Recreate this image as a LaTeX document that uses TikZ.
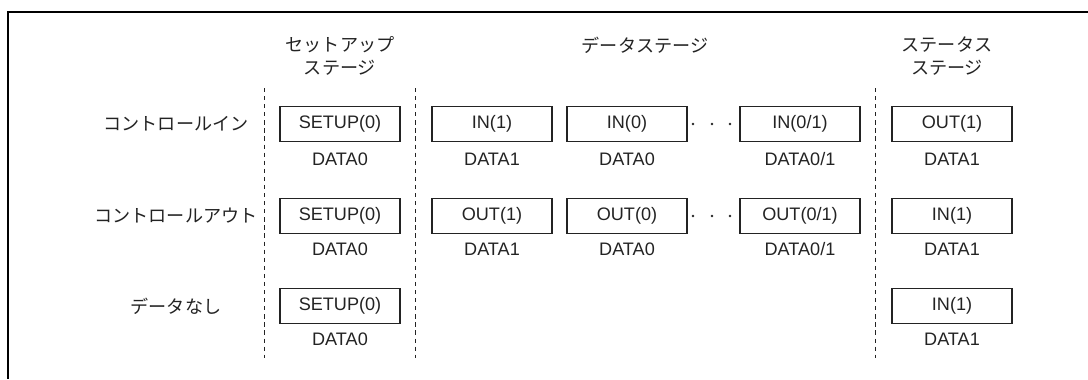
\documentclass[tikz,border=0pt]{standalone}
\usepackage{fontspec}
\setmainfont{Liberation Sans}
\newfontfamily\jp{Noto Sans CJK JP}
\usepackage{tikz}
\usetikzlibrary{positioning}
\definecolor{ink}{RGB}{35,35,35}
\tikzset{
  pkt/.style={draw=ink, line width=1.1pt, minimum width=2.4cm, minimum height=0.7cm,
    inner sep=0pt, text=ink, font=\fontsize{10.3}{12}\selectfont},
  pid/.style={text=ink, inner sep=0pt, font=\fontsize{10.3}{12}\selectfont},
  hdr/.style={text=ink, align=center, inner sep=0pt, font=\jp\fontsize{10.3}{13.2}\selectfont},
  row/.style={text=ink, inner sep=0pt, font=\jp\fontsize{10.3}{12}\selectfont},
  sep/.style={draw=ink, line width=0.5pt, dash pattern=on 2.4pt off 2.2pt},
  frame/.style={draw=black, line width=1.2pt}
}
\begin{document}
\begin{tikzpicture}[x=0.02cm, y=-0.02cm]
    \useasboundingbox (0,0) rectangle (1088,379);
    \draw[frame] (1088,12) -- (8,12) -- (8,379);

    \node[hdr] (hsetup) at (340,56) {セットアップ\\ステージ};
    \node[hdr] (hdata) at (645,45) {データステージ};
    \node[hdr] (hstatus) at (947,56) {ステータス\\ステージ};

    \node[row] (rin) at (176,124) {コントロールイン};
    \node[row] (rout) at (176,216) {コントロールアウト};
    \node[row] (rnone) at (176,306) {データなし};

    \draw[sep] (264,88) -- (264,358);
    \draw[sep] (415,88) -- (415,358);
    \draw[sep] (875,88) -- (875,358);

    % コントロールイン
    \node[pkt] (sin) at (340,124) {SETUP(0)};
    \node[pkt] (ina) at (492,124) {IN(1)};
    \node[pkt] (inb) at (627,124) {IN(0)};
    \node[pkt] (inc) at (800,124) {IN(0/1)};
    \node[pkt] (stin) at (952,124) {OUT(1)};
    \node[pid] at (340,159) {DATA0};
    \node[pid] at (492,159) {DATA1};
    \node[pid] at (627,159) {DATA0};
    \node[pid] at (800,159) {DATA0/1};
    \node[pid] at (952,159) {DATA1};
    \foreach \x in {693,712,730} \fill[ink] (\x,124) circle (0.8pt);

    % コントロールアウト
    \node[pkt] (sout) at (340,216) {SETUP(0)};
    \node[pkt] (outa) at (492,216) {OUT(1)};
    \node[pkt] (outb) at (627,216) {OUT(0)};
    \node[pkt] (outc) at (800,216) {OUT(0/1)};
    \node[pkt] (stout) at (952,216) {IN(1)};
    \node[pid] at (340,249) {DATA0};
    \node[pid] at (492,249) {DATA1};
    \node[pid] at (627,249) {DATA0};
    \node[pid] at (800,249) {DATA0/1};
    \node[pid] at (952,249) {DATA1};
    \foreach \x in {693,712,730} \fill[ink] (\x,216) circle (0.8pt);

    % データなし
    \node[pkt] (snone) at (340,306) {SETUP(0)};
    \node[pkt] (stnone) at (952,306) {IN(1)};
    \node[pid] at (340,339) {DATA0};
    \node[pid] at (952,339) {DATA1};
\end{tikzpicture}
\end{document}
